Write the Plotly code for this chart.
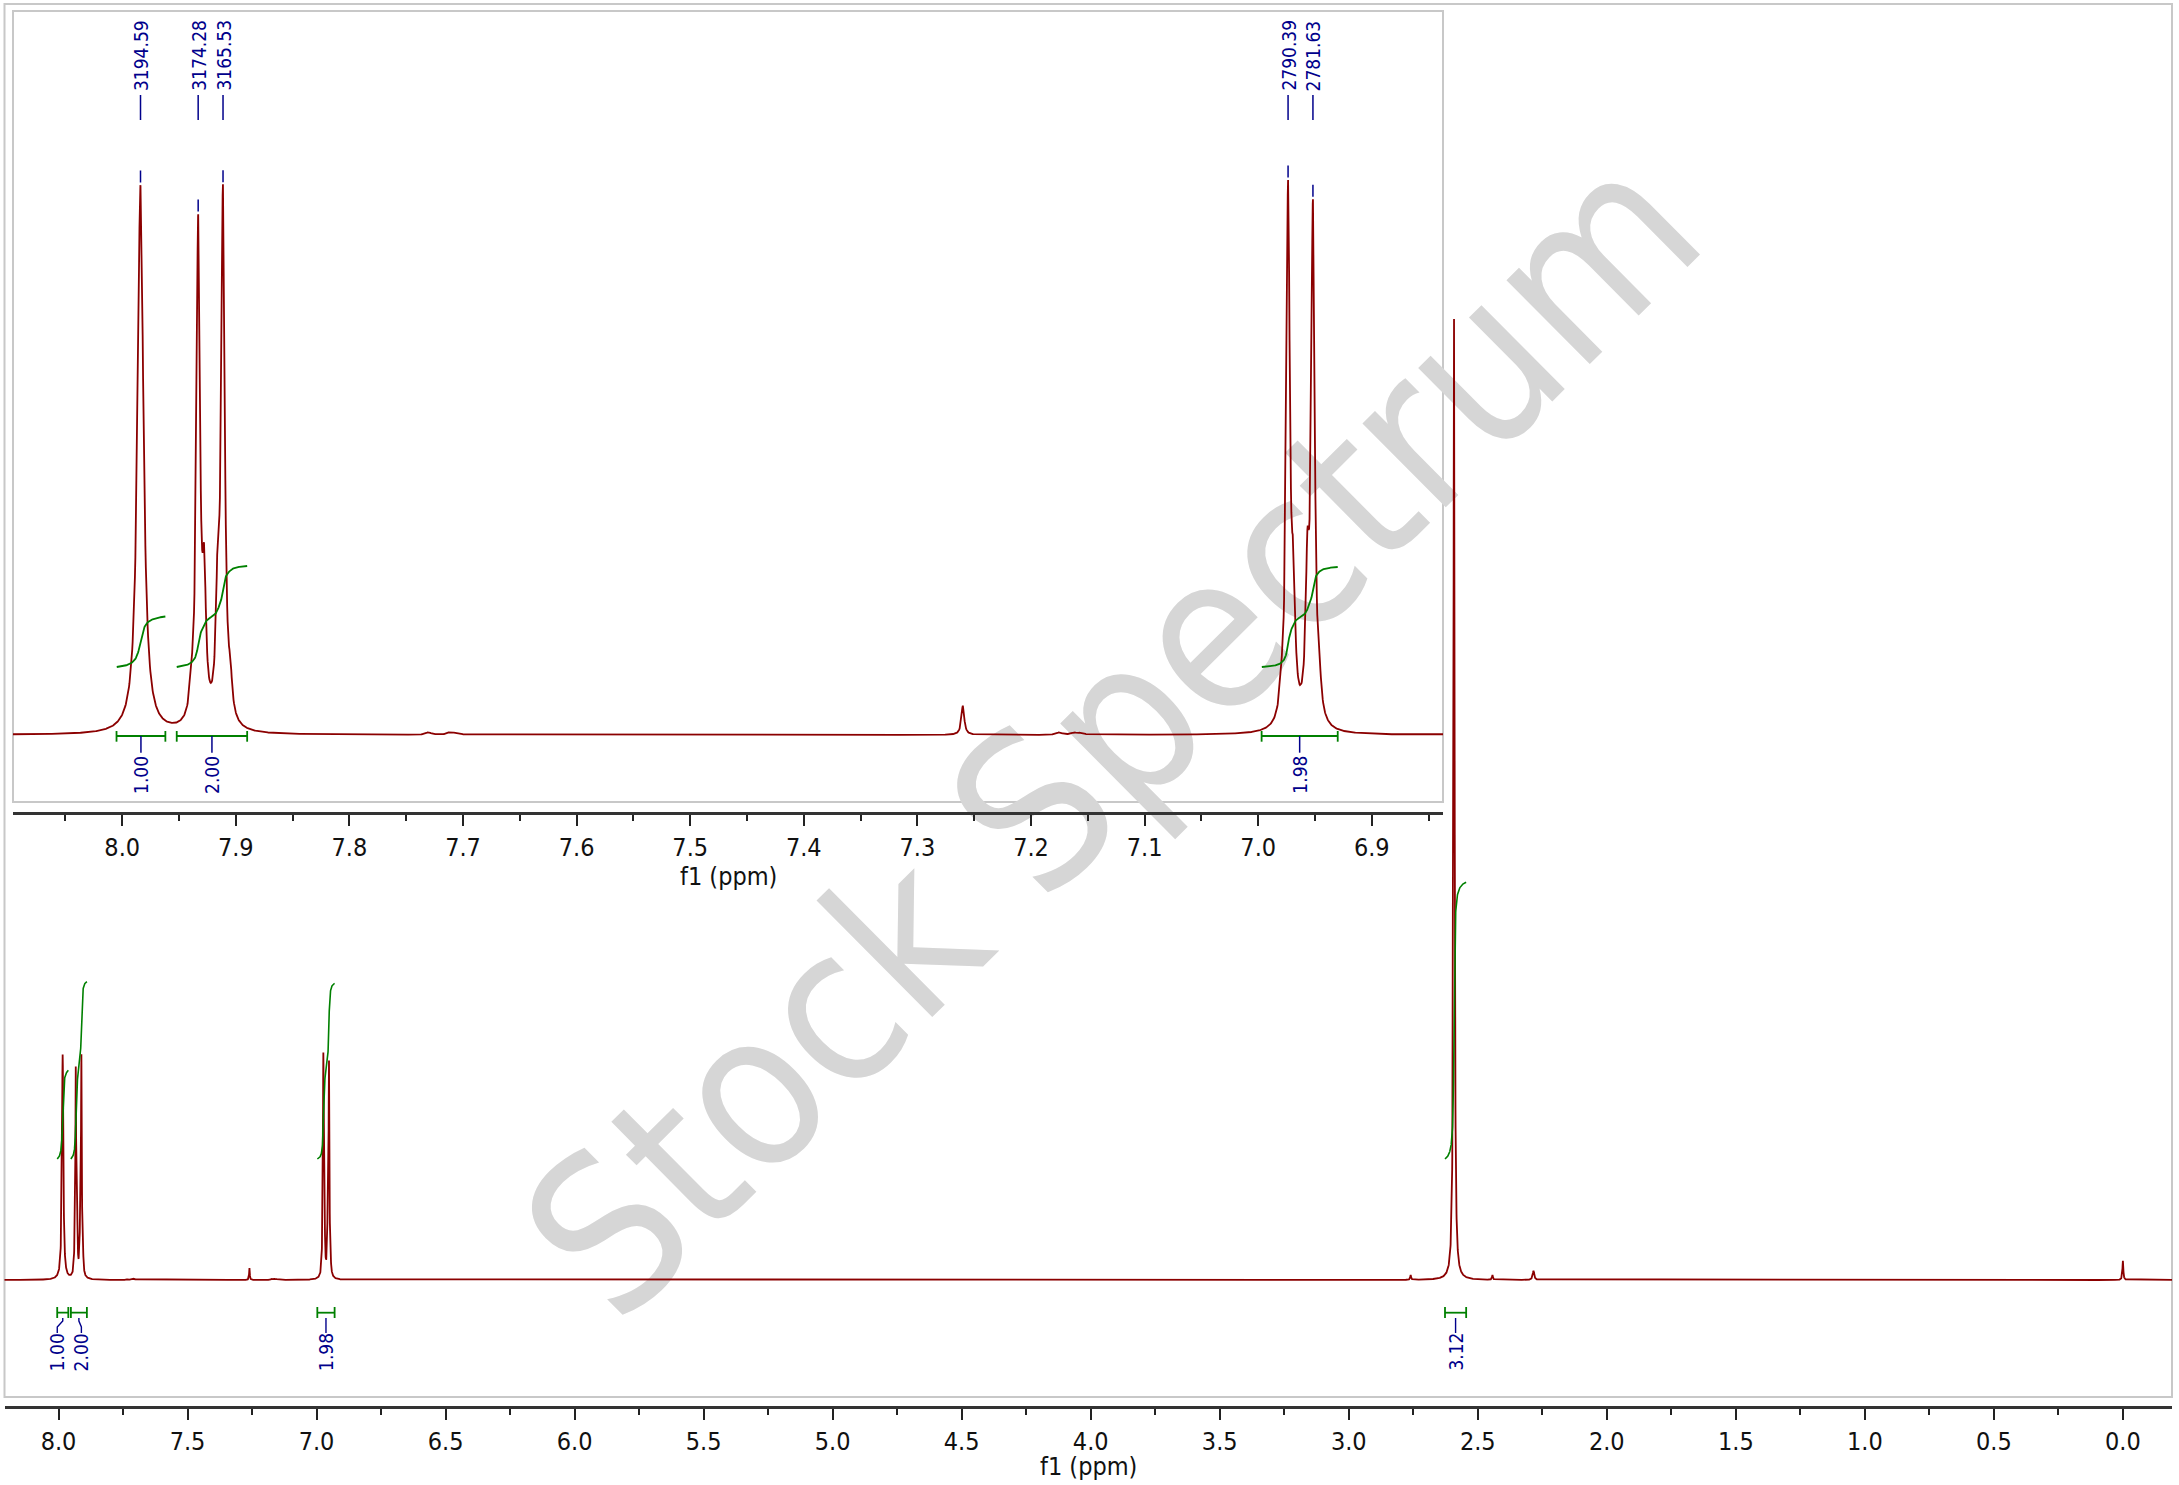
import numpy as np
import plotly.graph_objects as go

W, H = 2179, 1485

# ---------------- data ----------------
# resolved lines: position (ppm), height (% of the 2.59 ppm line), half width at half height (ppm)
peak_ppm = [7.9839, 7.9391, 7.9331, 7.9278, 7.9159, 7.9113, 7.9048,
            6.9797, 6.9737, 6.9690, 6.9567, 6.9518, 6.9458,
            7.2600, 7.7305, 7.7115, 7.7055, 7.1750, 7.1620, 7.1560,
            2.7600, 2.5920, 2.4430, 2.2840, 0.0000]
peak_height = [23.4, 0.8, 21.3, 5.2, 4.8, 22.5, 1.3,
               0.7, 22.8, 4.6, 5.5, 21.9, 0.9,
               1.25, 0.10, 0.10, 0.08, 0.10, 0.08, 0.08,
               0.50, 100.0, 0.50, 0.95, 2.0]
peak_hwhm = [0.0031, 0.0018, 0.0019, 0.0018, 0.0018, 0.0019, 0.0018,
             0.0018, 0.0019, 0.0018, 0.0018, 0.0019, 0.0018,
             0.0015, 0.0030, 0.0030, 0.0030, 0.0030, 0.0030, 0.0030,
             0.0020, 0.0026, 0.0020, 0.0035, 0.0020]

spectrometer_mhz = 400.13
label_hz = [3194.59, 3174.28, 3165.53, 2790.39, 2781.63]

int_start_ppm = [8.005, 7.952, 6.997, 2.627]
int_end_ppm = [7.962, 7.890, 6.930, 2.545]
int_value = [1.00, 2.00, 1.98, 3.12]

axis_title = "f1 (ppm)"
watermark_text = "Stock Spectrum"

# ---------------- layout constants (pixels) ----------------
M_LEFT, M_RIGHT, M_TOP, M_AXIS, M_FRAME_BOTTOM = 4.5, 2172.0, 4.0, 1406.0, 1397.0
M_PPM0_PX, M_PX_PER_PPM = 2122.9, 258.05
M_BASE_PX, M_PX_PER_UNIT = 1280.0, 9.61
M_INT_BASE_PX, M_INT_PX_PER_UNIT = 1159.0, 88.7

I_LEFT, I_RIGHT, I_TOP, I_AXIS, I_FRAME_BOTTOM = 13.0, 1443.0, 11.0, 811.7, 802.0
I_PPM8_PX, I_PX_PER_PPM = 122.2, 1136.0
I_BASE_PX, I_PX_PER_UNIT = 735.0, 23.44
I_INT_BASE_PX, I_INT_PX_PER_UNIT = 667.0, 50.5

RED = "#8b0000"
GREEN = "#008000"
BLUE = "#00008b"
LBL_FONT = "DejaVu Sans Condensed, DejaVu Sans, sans-serif"


def my(py):
    return (M_BASE_PX - py) / M_PX_PER_UNIT


def iy(py):
    return (I_BASE_PX - py) / I_PX_PER_UNIT


def py_paper(py):
    return 1 - py / H


def px_paper(px):
    return px / W


# ---------------- spectrum from the peak table ----------------
x = np.union1d(np.round(np.arange(-0.2, 8.2201, 0.0004), 5), np.array(peak_ppm))
spec = np.zeros_like(x)
for p, h, g in zip(peak_ppm, peak_height, peak_hwhm):
    spec += h * g * g / (g * g + (x - p) ** 2)


def integral_curve(a, b, val):
    m = (x <= a) & (x >= b)
    xs = x[m][::-1]
    ys = spec[m][::-1]
    cum = np.concatenate([[0.0], np.cumsum(0.5 * (ys[1:] + ys[:-1]) * np.abs(np.diff(xs)))])
    return xs, cum / cum[-1] * val


main_xr = [(M_PPM0_PX - M_LEFT) / M_PX_PER_PPM, (M_PPM0_PX - M_RIGHT) / M_PX_PER_PPM]
main_yr = [my(M_AXIS), my(M_TOP)]
ins_xr = [8 + (I_PPM8_PX - I_LEFT) / I_PX_PER_PPM, 8 - (I_RIGHT - I_PPM8_PX) / I_PX_PER_PPM]
ins_yr = [iy(I_AXIS), iy(I_TOP)]

fig = go.Figure()

# spectrum lines
fig.add_trace(go.Scatter(x=x, y=spec, mode="lines", line=dict(color=RED, width=1.8),
                         xaxis="x", yaxis="y", hoverinfo="skip"))
fig.add_trace(go.Scatter(x=x, y=spec, mode="lines", line=dict(color=RED, width=1.8),
                         xaxis="x2", yaxis="y2", hoverinfo="skip"))

annotations = []

# integrals
for k, (a, b, v) in enumerate(zip(int_start_ppm, int_end_ppm, int_value)):
    xs, cum = integral_curve(a, b, v)
    # main
    fig.add_trace(go.Scatter(x=xs, y=my(M_INT_BASE_PX) + cum * M_INT_PX_PER_UNIT / M_PX_PER_UNIT,
                             mode="lines", line=dict(color=GREEN, width=1.6),
                             xaxis="x", yaxis="y", hoverinfo="skip"))
    bx = [a, b, None, a, a, None, b, b]
    by = [my(1312.7), my(1312.7), None, my(1307), my(1318), None, my(1307), my(1318)]
    fig.add_trace(go.Scatter(x=bx, y=by, mode="lines", line=dict(color=GREEN, width=1.8),
                             xaxis="x", yaxis="y", hoverinfo="skip"))
    c = 0.5 * (a + b)
    shift_px = [-5.5, 2.5, 0.0, 0.0][k]
    lx = c - shift_px / M_PX_PER_PPM
    fig.add_trace(go.Scatter(x=[c, c, lx, lx], y=[my(1318), my(1321), my(1327), my(1333)],
                             mode="lines", line=dict(color=BLUE, width=1.4),
                             xaxis="x", yaxis="y", hoverinfo="skip"))
    annotations.append(dict(x=lx, xref="x", y=py_paper(1332), yref="paper", text=f"{v:.2f}",
                            textangle=-90, showarrow=False, xanchor="center", yanchor="top",
                            font=dict(family=LBL_FONT, size=19, color=BLUE), borderpad=0))
    # inset
    if ins_xr[1] < c < ins_xr[0]:
        fig.add_trace(go.Scatter(x=xs, y=iy(I_INT_BASE_PX) + cum * I_INT_PX_PER_UNIT / I_PX_PER_UNIT,
                                 mode="lines", line=dict(color=GREEN, width=1.8),
                                 xaxis="x2", yaxis="y2", hoverinfo="skip"))
        by2 = [iy(736), iy(736), None, iy(731), iy(741.7), None, iy(731), iy(741.7)]
        fig.add_trace(go.Scatter(x=bx, y=by2, mode="lines", line=dict(color=GREEN, width=1.8),
                                 xaxis="x2", yaxis="y2", hoverinfo="skip"))
        fig.add_trace(go.Scatter(x=[c, c], y=[iy(736), iy(752.7)], mode="lines",
                                 line=dict(color=BLUE, width=1.5),
                                 xaxis="x2", yaxis="y2", hoverinfo="skip"))
        annotations.append(dict(x=c, xref="x2", y=py_paper(755), yref="paper", text=f"{v:.2f}",
                                textangle=-90, showarrow=False, xanchor="center", yanchor="top",
                                font=dict(family=LBL_FONT, size=19, color=BLUE), borderpad=0))

# peak labels in the inset
for hz in label_hz:
    p = hz / spectrometer_mhz
    top = float(np.interp(p, x, spec))
    fig.add_trace(go.Scatter(x=[p, p, None, p, p],
                             y=[iy(95), iy(120), None, top + 3 / I_PX_PER_UNIT, top + 15 / I_PX_PER_UNIT],
                             mode="lines", line=dict(color=BLUE, width=1.5),
                             xaxis="x2", yaxis="y2", hoverinfo="skip"))
    annotations.append(dict(x=p, xref="x2", y=py_paper(92), yref="paper", text=f"{hz:.2f}",
                            textangle=-90, showarrow=False, xanchor="center", yanchor="bottom",
                            font=dict(family=LBL_FONT, size=19, color=BLUE), borderpad=0))

# axis titles
annotations.append(dict(x=px_paper(0.5 * (M_LEFT + M_RIGHT)), xref="paper", y=py_paper(1466), yref="paper",
                        text=axis_title, showarrow=False, xanchor="center", yanchor="middle",
                        font=dict(family=LBL_FONT, size=25, color="#111")))
annotations.append(dict(x=px_paper(0.5 * (I_LEFT + I_RIGHT)), xref="paper", y=py_paper(876), yref="paper",
                        text=axis_title, showarrow=False, xanchor="center", yanchor="middle",
                        font=dict(family=LBL_FONT, size=25, color="#111")))

shapes = [
    dict(type="rect", xref="paper", yref="paper", layer="below",
         x0=px_paper(M_LEFT), x1=px_paper(M_RIGHT), y0=py_paper(M_FRAME_BOTTOM), y1=py_paper(M_TOP),
         line=dict(color="#c8c8c8", width=2), fillcolor="rgba(0,0,0,0)"),
    dict(type="rect", xref="paper", yref="paper", layer="below",
         x0=px_paper(I_LEFT), x1=px_paper(I_RIGHT), y0=py_paper(I_FRAME_BOTTOM), y1=py_paper(I_TOP),
         line=dict(color="#c8c8c8", width=2), fillcolor="rgba(0,0,0,0)"),
    dict(type="rect", xref="paper", yref="paper", layer="below",
         x0=px_paper(1091), x1=px_paper(1111), y0=py_paper(732), y1=py_paper(712),
         line=dict(width=0), fillcolor="rgba(0,0,0,0)",
         label=dict(text=watermark_text, textangle=-44.8, textposition="middle center",
                    font=dict(family=LBL_FONT, size=216, color="#d6d6d6"))),
]

tickfont = dict(family=LBL_FONT, size=25, color="#111")
fig.update_layout(
    width=W, height=H, margin=dict(l=0, r=0, t=0, b=0),
    paper_bgcolor="white", plot_bgcolor="rgba(0,0,0,0)", showlegend=False,
    xaxis=dict(domain=[px_paper(M_LEFT), px_paper(M_RIGHT)], range=main_xr, anchor="y",
               showline=True, linecolor="#333", linewidth=3, ticks="outside", ticklen=11,
               tickwidth=1.6, tickcolor="#222", dtick=0.5, tick0=0, tickformat=".1f",
               showgrid=False, zeroline=False, tickfont=tickfont,
               minor=dict(dtick=0.25, tick0=0, ticks="outside", ticklen=6, tickwidth=1.6,
                          tickcolor="#222", showgrid=False)),
    yaxis=dict(domain=[py_paper(M_AXIS), py_paper(M_TOP)], range=main_yr, visible=False, anchor="x"),
    xaxis2=dict(domain=[px_paper(I_LEFT), px_paper(I_RIGHT)], range=ins_xr, anchor="y2",
                showline=True, linecolor="#333", linewidth=3, ticks="outside", ticklen=11,
                tickwidth=1.6, tickcolor="#222", dtick=0.1, tick0=0, tickformat=".1f",
                showgrid=False, zeroline=False, tickfont=tickfont,
                minor=dict(dtick=0.05, tick0=0, ticks="outside", ticklen=6, tickwidth=1.6,
                           tickcolor="#222", showgrid=False)),
    yaxis2=dict(domain=[py_paper(I_AXIS), py_paper(I_TOP)], range=ins_yr, visible=False, anchor="x2"),
    annotations=annotations,
    shapes=shapes,
)

fig.write_html("out.html", config={"displayModeBar": False},
               post_script="document.body.style.margin='0px';")
